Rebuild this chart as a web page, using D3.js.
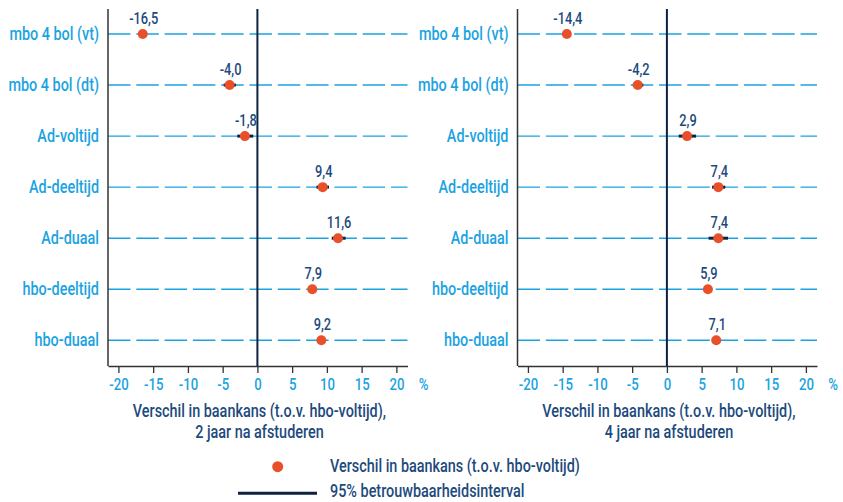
<!DOCTYPE html>
<html>
<head>
<meta charset="utf-8">
<script src="https://cdn.jsdelivr.net/npm/d3@7"></script>
<style>
  body { margin: 0; background: #fff; }
  svg { display: block; font-family: "Roboto", "DejaVu Sans Condensed", sans-serif; font-weight: 500; }
</style>
</head>
<body>
<svg id="chart" width="843" height="502"></svg>
<script>
// categories (top to bottom)
const categories = ["mbo 4 bol (vt)", "mbo 4 bol (dt)", "Ad-voltijd", "Ad-deeltijd", "Ad-duaal", "hbo-deeltijd", "hbo-duaal"];

// 2 jaar na afstuderen
const values2 = [-16.5, -4.0, -1.8, 9.4, 11.6, 7.9, 9.2];
const lower2  = [-17.0, -4.85, -2.9, 8.5, 10.7, 7.5, 8.8];
const upper2  = [-16.0, -3.1, -0.6, 10.3, 12.7, 8.3, 9.6];

// 4 jaar na afstuderen
const values4 = [-14.4, -4.2, 2.9, 7.4, 7.4, 5.9, 7.1];
const lower4  = [-14.9, -4.9, 1.7, 6.5, 6.0, 5.5, 6.7];
const upper4  = [-13.9, -3.4, 4.2, 8.4, 8.8, 6.3, 7.5];

const tickValues = [-20, -15, -10, -5, 0, 5, 10, 15, 20];

const panels = [
  { values: values2, lower: lower2, upper: upper2, title: ["Verschil in baankans (t.o.v. hbo-voltijd),", "2 jaar na afstuderen"], x0: 108 },
  { values: values4, lower: lower4, upper: upper4, title: ["Verschil in baankans (t.o.v. hbo-voltijd),", "4 jaar na afstuderen"], x0: 517.5 }
];

const lightBlue = "#1ba3e1";
const darkBlue = "#1d4a7c";
const navy = "#0d2240";
const dotColor = "#e8502a";

const svg = d3.select("#chart");

const plotTop = 9, plotBottom = 366;
const y = d3.scalePoint().domain(categories).range([34, 340.3]);

const fmt = v => d3.format(".1f")(v).replace(".", ",").replace("−", "-");

// squeeze text horizontally to mimic a condensed typeface
const condense = (sel, k = 0.8) => sel.each(function () {
  const len = this.getComputedTextLength();
  d3.select(this).attr("textLength", len * k).attr("lengthAdjust", "spacingAndGlyphs");
});

panels.forEach(p => {
  const x = d3.scaleLinear().domain([-21.5, 21.6]).range([p.x0, p.x0 + 299.5]);
  const g = svg.append("g");

  // dashed gridlines per category
  g.selectAll(".grid")
    .data(categories)
    .join("line")
    .attr("x1", x.range()[0])
    .attr("x2", x.range()[1])
    .attr("y1", d => y(d))
    .attr("y2", d => y(d))
    .attr("stroke", lightBlue)
    .attr("stroke-width", 1.4)
    .attr("stroke-dasharray", "22.5,5.8");

  // category labels
  g.selectAll(".cat")
    .data(categories)
    .join("text")
    .attr("x", x.range()[0] - 9)
    .attr("y", d => y(d) + 6)
    .attr("text-anchor", "end")
    .attr("fill", lightBlue)
    .attr("font-size", 18)
    .text(d => d)
    .call(condense);

  // left axis line
  g.append("line")
    .attr("x1", x.range()[0]).attr("x2", x.range()[0])
    .attr("y1", plotTop).attr("y2", plotBottom)
    .attr("stroke", "#333").attr("stroke-width", 1.5);

  // bottom axis
  const axis = g.append("g")
    .attr("transform", `translate(0,${plotBottom})`)
    .call(d3.axisBottom(x).tickValues(tickValues).tickSize(7).tickSizeOuter(0).tickFormat(d => d));
  axis.attr("font-family", null).attr("font-size", null);
  axis.select(".domain").attr("stroke", "#333").attr("stroke-width", 1.5);
  axis.selectAll(".tick line").attr("stroke", "#333").attr("stroke-width", 1.3);
  axis.selectAll(".tick text")
    .attr("fill", lightBlue)
    .attr("font-size", 16.5)
    .attr("dy", null)
    .attr("y", 23.5)
    .call(condense);

  g.append("text")
    .attr("x", x.range()[1] + 16)
    .attr("y", plotBottom + 23.5)
    .attr("text-anchor", "middle")
    .attr("fill", lightBlue)
    .attr("font-size", 16.5)
    .text("%")
    .call(condense);

  // zero line
  g.append("line")
    .attr("x1", x(0)).attr("x2", x(0))
    .attr("y1", plotTop).attr("y2", plotBottom)
    .attr("stroke", navy).attr("stroke-width", 2);

  // confidence intervals
  g.selectAll(".ci")
    .data(categories)
    .join("line")
    .attr("x1", (d, i) => x(p.lower[i]))
    .attr("x2", (d, i) => x(p.upper[i]))
    .attr("y1", d => y(d))
    .attr("y2", d => y(d))
    .attr("stroke", navy)
    .attr("stroke-width", 3);

  // points
  g.selectAll(".dot")
    .data(categories)
    .join("circle")
    .attr("cx", (d, i) => x(p.values[i]))
    .attr("cy", d => y(d))
    .attr("r", 5)
    .attr("fill", dotColor);

  // value labels
  g.selectAll(".val")
    .data(categories)
    .join("text")
    .attr("x", (d, i) => x(p.values[i]) + 1)
    .attr("y", d => y(d) - 10)
    .attr("text-anchor", "middle")
    .attr("fill", darkBlue)
    .attr("font-size", 16)
    .text((d, i) => fmt(p.values[i]))
    .call(condense);

  // axis title (two lines)
  g.selectAll(".title")
    .data(p.title)
    .join("text")
    .attr("x", x(0) + 2)
    .attr("y", (d, i) => 417 + i * 21)
    .attr("text-anchor", "middle")
    .attr("fill", darkBlue)
    .attr("font-size", 18)
    .text(d => d)
    .call(condense);
});

// legend
const legend = svg.append("g");
legend.append("circle")
  .attr("cx", 277.7).attr("cy", 466.7).attr("r", 5.5)
  .attr("fill", dotColor);
legend.append("line")
  .attr("x1", 238).attr("x2", 317)
  .attr("y1", 493.3).attr("y2", 493.3)
  .attr("stroke", navy).attr("stroke-width", 3);
legend.append("text")
  .attr("x", 330).attr("y", 472)
  .attr("fill", darkBlue).attr("font-size", 18)
  .text("Verschil in baankans (t.o.v. hbo-voltijd)")
  .call(condense);
legend.append("text")
  .attr("x", 330).attr("y", 497)
  .attr("fill", darkBlue).attr("font-size", 18)
  .text("95% betrouwbaarheidsinterval")
  .call(condense);
</script>
</body>
</html>
